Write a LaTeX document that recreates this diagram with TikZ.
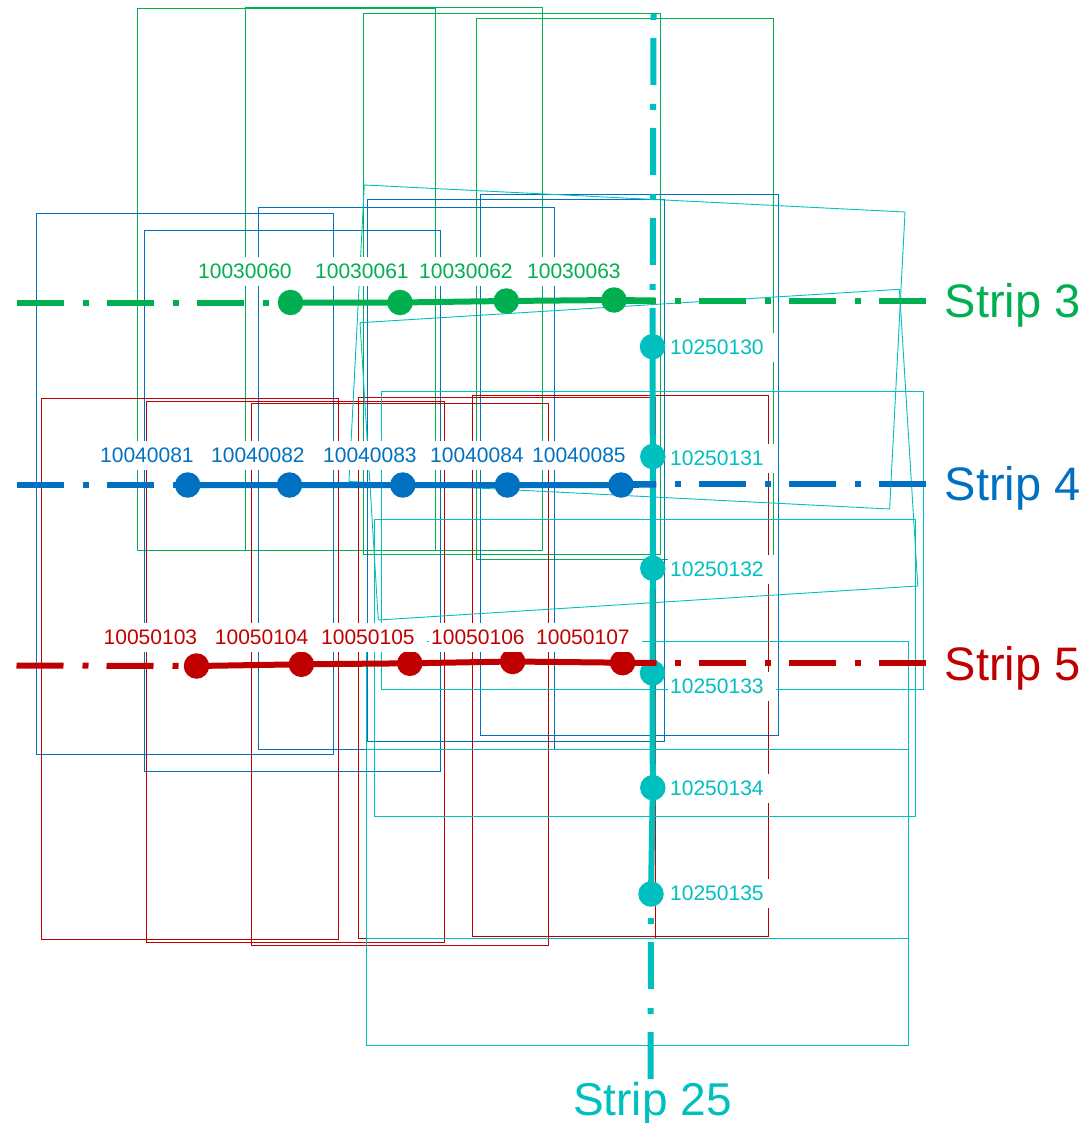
\documentclass[tikz,border=0pt]{standalone}
\usepackage{fontspec}
\setmainfont{Liberation Sans}
\definecolor{sgreen}{HTML}{00B050}
\definecolor{sblue}{HTML}{0070C0}
\definecolor{sred}{HTML}{C00000}
\definecolor{scyan}{HTML}{00BFBF}
\begin{document}
\begin{tikzpicture}[x=1pt,y=-1pt,
  foot/.style={line width=0.9pt},
  stripline/.style={line width=6pt},
  stripdash/.style={line width=6pt, dash pattern=on 47pt off 19pt on 6pt off 18pt},
  dotnode/.style={circle, fill, inner sep=0pt, minimum size=25.5pt},
  lab/.style={fill=white, inner xsep=2pt, inner ysep=0pt, text width=104pt, align=left,
    minimum height=29pt, anchor=west, font=\fontsize{21}{21}\selectfont,
    text height=15pt, text depth=0pt},
  big/.style={inner sep=0pt, font=\fontsize{47}{47}\selectfont}
]
\useasboundingbox (0,0) rectangle (1084,1123);

% ---- footprints strip 3 (green)
\draw[foot, sgreen] (137.5,8.5) rectangle (435,550);
\draw[foot, sgreen] (245,7.5) rectangle (542.5,550);
\draw[foot, sgreen] (363,13) rectangle (660.5,554);
\draw[foot, sgreen] (476,18.5) rectangle (773.5,559);
% ---- footprints strip 4 (blue)
\draw[foot, sblue] (36.5,213) rectangle (333,754);
\draw[foot, sblue] (144,230) rectangle (440.7,771);
\draw[foot, sblue] (258,207.7) rectangle (554.6,749);
\draw[foot, sblue] (367.7,199.3) rectangle (664.3,741);
\draw[foot, sblue] (480.7,194) rectangle (778.5,735.3);
% ---- footprints strip 5 (red)
\draw[foot, sred] (41,398.3) rectangle (338,939.3);
\draw[foot, sred] (146.3,401) rectangle (444,942.7);
\draw[foot, sred] (251.6,403.7) rectangle (548.4,945);
\draw[foot, sred] (358.6,397) rectangle (655,938.3);
\draw[foot, sred] (472,395) rectangle (768.5,936.7);
% ---- footprints strip 25 (cyan)
\draw[foot, scyan] (364.3,185) -- (905,212) -- (889.6,509) -- (349,481.5) -- cycle;
\draw[foot, scyan] (360,322.7) -- (899.4,289.3) -- (917.8,586) -- (378.3,620) -- cycle;
\draw[foot, scyan] (381.7,391.7) rectangle (923.7,689.5);
\draw[foot, scyan] (374.4,519.3) rectangle (915.7,816.3);
\draw[foot, scyan] (366.7,641.7) rectangle (908.7,938.3);
\draw[foot, scyan] (366.7,749) rectangle (908,1045.7);

% ---- strip 25 (vertical)
\coordinate (ctop) at (653.5,14);
\coordinate (cbot) at (650.5,1080);
\node[dotnode, scyan] (c130) at (652.5,346.7) {};
\node[dotnode, scyan] (c131) at (652.8,456.5) {};
\node[dotnode, scyan] (c132) at (652.8,568.3) {};
\node[dotnode, scyan] (c133) at (652.5,673) {};
\node[dotnode, scyan] (c134) at (652.8,787.7) {};
\node[dotnode, scyan] (c135) at (651,894) {};
\draw[stripdash, scyan, dash phase=66pt] (ctop) -- (c130.center);
\draw[stripline, scyan] (c130.center) -- (c131.center) -- (c132.center) -- (c133.center) -- (c134.center) -- (c135.center);
\draw[stripdash, scyan, dash phase=42pt] (c135.center) -- (cbot);

% ---- strip 3 (green)
\coordinate (gl) at (16.5,302.5);
\coordinate (ge) at (655,300.5);
\coordinate (gr0) at (609,301);
\coordinate (gr1) at (926.5,301);
\draw[stripdash, sgreen] (gl) -- (290.5,302.5) coordinate (g60c);
\draw[stripline, sgreen] (g60c) -- (400,302.5) coordinate (g61c) -- (506.3,301) coordinate (g62c) -- (614,300) coordinate (g63c) -- (ge);
\draw[stripdash, sgreen] (gr0) -- (gr1);
\node[dotnode, sgreen] (g60) at (g60c) {};
\node[dotnode, sgreen] (g61) at (g61c) {};
\node[dotnode, sgreen] (g62) at (g62c) {};
\node[dotnode, sgreen] (g63) at (g63c) {};

% ---- strip 4 (blue)
\coordinate (bl) at (16.5,485);
\coordinate (be) at (656.3,484.5);
\coordinate (br0) at (609,484);
\coordinate (br1) at (926.5,484);
\draw[stripdash, sblue] (bl) -- (187.7,485) coordinate (b81c);
\draw[stripline, sblue] (b81c) -- (289.5,485) coordinate (b82c) -- (402.8,485) coordinate (b83c) -- (507.4,485) coordinate (b84c) -- (621,485) coordinate (b85c) -- (be);
\draw[stripdash, sblue] (br0) -- (br1);
\node[dotnode, sblue] (b81) at (b81c) {};
\node[dotnode, sblue] (b82) at (b82c) {};
\node[dotnode, sblue] (b83) at (b83c) {};
\node[dotnode, sblue] (b84) at (b84c) {};
\node[dotnode, sblue] (b85) at (b85c) {};

% ---- strip 5 (red)
\coordinate (rl) at (16.5,665.5);
\coordinate (re) at (656.5,663);
\coordinate (rr0) at (609,663);
\coordinate (rr1) at (926.5,663);
\draw[stripdash, sred] (rl) -- (196.5,666) coordinate (r103c);
\draw[stripline, sred] (r103c) -- (301.4,664.3) coordinate (r104c) -- (409.8,663.3) coordinate (r105c) -- (512.6,661.5) coordinate (r106c) -- (622.6,662.7) coordinate (r107c) -- (re);
\draw[stripdash, sred] (rr0) -- (rr1);
\node[dotnode, sred] (r103) at (r103c) {};
\node[dotnode, sred] (r104) at (r104c) {};
\node[dotnode, sred] (r105) at (r105c) {};
\node[dotnode, sred] (r106) at (r106c) {};
\node[dotnode, sred] (r107) at (r107c) {};

% ---- labels
\node[lab, text=sgreen] (lg60) at (196,271) {10030060};
\node[lab, text=sgreen] (lg61) at (313,271) {10030061};
\node[lab, text=sgreen] (lg62) at (417,271) {10030062};
\node[lab, text=sgreen] (lg63) at (525,271) {10030063};

\node[lab, text=sblue] (lb81) at (98,455) {10040081};
\node[lab, text=sblue] (lb82) at (209,455) {10040082};
\node[lab, text=sblue] (lb83) at (321,455) {10040083};
\node[lab, text=sblue] (lb84) at (428,455) {10040084};
\node[lab, text=sblue] (lb85) at (530,455) {10040085};

\node[lab, text=sred] (lr103) at (101.5,637) {10050103};
\node[lab, text=sred] (lr104) at (212.7,637) {10050104};
\node[lab, text=sred] (lr105) at (319,637) {10050105};
\node[lab, text=sred] (lr106) at (429,637) {10050106};
\node[lab, text=sred] (lr107) at (534,637) {10050107};

\node[lab, text=scyan] (lc130) at (668,347) {10250130};
\node[lab, text=scyan] (lc131) at (668,458) {10250131};
\node[lab, text=scyan] (lc132) at (668,569) {10250132};
\node[lab, text=scyan] (lc133) at (668,686) {10250133};
\node[lab, text=scyan] (lc134) at (668,788) {10250134};
\node[lab, text=scyan] (lc135) at (668,893) {10250135};

% ---- strip names
\node[big, text=sgreen, anchor=base west] (s3) at (944.5,317) {Strip 3};
\node[big, text=sblue, anchor=base west] (s4) at (944.5,500) {Strip 4};
\node[big, text=sred, anchor=base west] (s5) at (944.5,680) {Strip 5};
\node[big, text=scyan, anchor=base, font=\fontsize{46}{46}\selectfont] (s25) at (652.4,1115) {Strip 25};
\end{tikzpicture}
\end{document}
